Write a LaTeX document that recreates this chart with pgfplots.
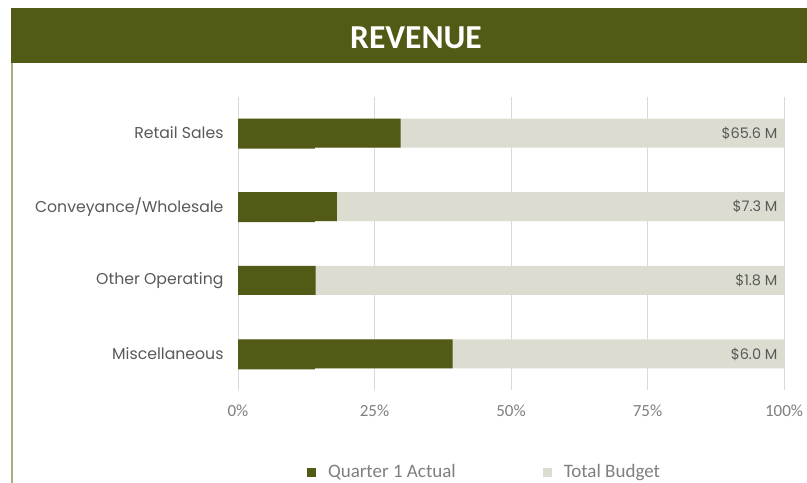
\documentclass[border=0pt]{standalone}
\usepackage{fontspec}
\setmainfont{Carlito}
\newfontfamily\gothic{Poppins}
\usepackage{pgfplots}
\pgfplotsset{compat=1.18}
\definecolor{olivebar}{HTML}{525A16}
\definecolor{budget}{HTML}{DCDDD0}
\definecolor{gridc}{HTML}{D9D9D9}
\definecolor{lbl}{HTML}{595959}
\definecolor{tickc}{HTML}{7F7F7F}
\definecolor{borderc}{HTML}{A7AE88}
\begin{document}
\begin{tikzpicture}[x=1bp,y=1bp]
\path[use as bounding box, fill=white] (0,0) rectangle (807,-483);
\fill[olivebar] (11,-8) rectangle (807,-63);
\node[text=white, font=\fontsize{33.5bp}{36bp}\selectfont\bfseries] at (416,-38) {REVENUE};
\draw[borderc, line width=1.5bp] (12,-63) -- (12,-483);
\begin{axis}[
  at={(238bp,-390bp)}, anchor=south west,
  scale only axis, width=546bp, height=293bp,
  xmin=0, xmax=100, ymin=-0.49, ymax=3.49,
  axis line style={draw=none},
  xtick={0,25,50,75,100}, xticklabels={0\%,25\%,50\%,75\%,100\%},
  ytick={0,1,2,3}, yticklabels={Miscellaneous,Other Operating,Conveyance/Wholesale,Retail Sales},
  major tick length=0pt,
  xmajorgrids, major grid style={gridc, line width=0.8bp},
  xticklabel style={font=\fontsize{17bp}{20bp}\selectfont, text=tickc, yshift=-11bp},
  yticklabel style={font=\gothic\fontsize{15.7bp}{18bp}\selectfont, text=lbl, xshift=-11bp},
  reverse legend, legend columns=2,
  legend style={at={(0.4515,-0.28)}, anchor=center, draw=none, fill=none,
    font=\fontsize{19bp}{22bp}\selectfont, text=tickc,
    /tikz/every even column/.append style={column sep=85bp}},
  legend image code/.code={\fill[#1] (0bp,-4.5bp) rectangle (9bp,4.5bp); \path[draw=none,fill=none] (0bp,-0.1bp) rectangle (19bp,0.1bp);},
]
\addplot[xbar, bar width=29bp, bar shift=0pt, fill=budget, draw=none,
  point meta=explicit symbolic, nodes near coords,
  nodes near coords style={anchor=east, xshift=-3bp, font=\gothic\fontsize{14.5bp}{17bp}\selectfont, text=lbl}]
  coordinates {(100,3) [\$65.6 M] (100,2) [\$7.3 M] (100,1) [\$1.8 M] (100,0) [\$6.0 M]};
\addlegendentry{Total Budget}
\addplot[xbar, bar width=29bp, bar shift=-1bp, fill=olivebar, draw=none, forget plot]
  coordinates {(14.1,3) (14.1,2) (14.1,0)};
\addplot[xbar, bar width=29bp, bar shift=0pt, fill=olivebar, draw=none]
  coordinates {(29.8,3) (18.1,2) (14.2,1) (39.3,0)};
\addlegendentry{Quarter 1 Actual}
\end{axis}
\end{tikzpicture}
\end{document}
